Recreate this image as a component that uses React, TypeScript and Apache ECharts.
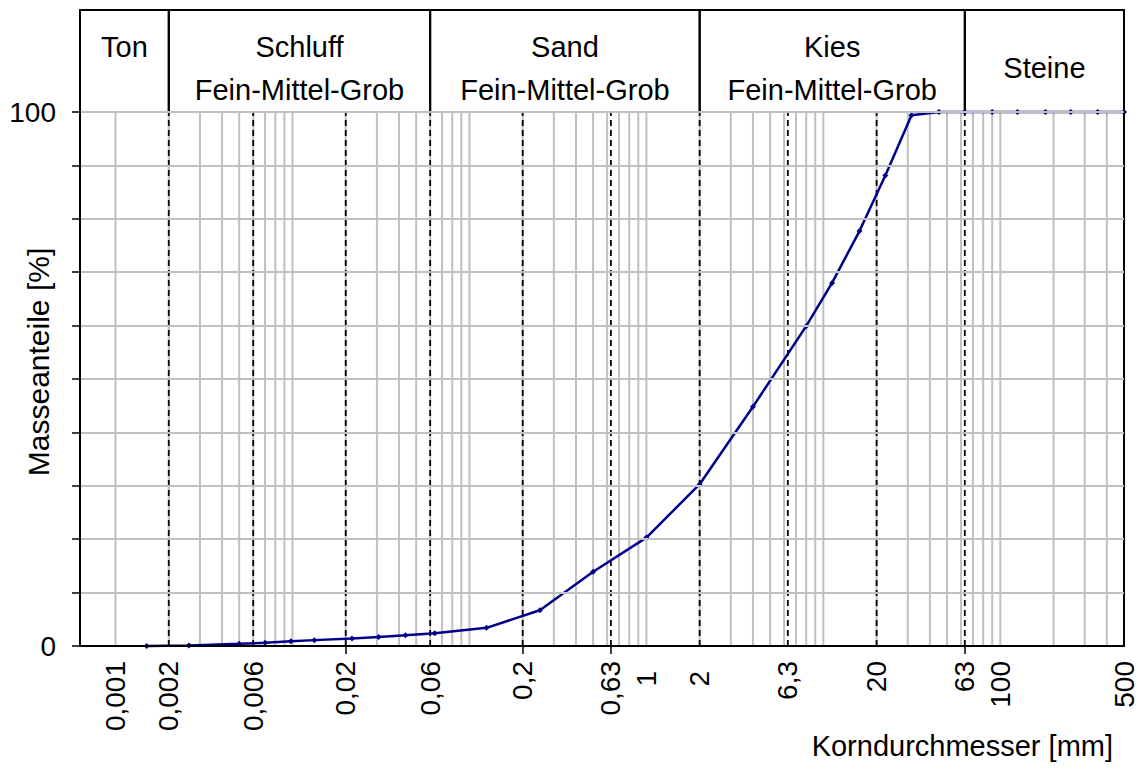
import React, { useEffect, useRef } from "react";
import * as echarts from "echarts";

// Sieve / sedimentation results: grain size [mm] and passing mass [%]
const SIEVE_MM = [
  0.0015, 0.0026, 0.005, 0.007, 0.0098, 0.0133, 0.0217, 0.0307, 0.0435, 0.0637,
  0.125, 0.25, 0.5, 1, 2, 4, 8, 11.2, 16, 22.4, 31.5, 45, 63, 90, 125, 180, 250,
  355, 500,
];
const PASSING = [
  0, 0.1, 0.4, 0.6, 0.9, 1.1, 1.4, 1.7, 2.0, 2.4, 3.4, 6.7, 13.9, 20.3, 30.3,
  44.8, 59.9, 68.0, 77.7, 88.1, 99.4, 100, 100, 100, 100, 100, 100, 100, 100,
];

// Labelled grain sizes on the horizontal axis
const X_TICKS = [0.001, 0.002, 0.006, 0.02, 0.06, 0.2, 0.63, 1, 2, 6.3, 20, 63, 100, 500];
const X_TICK_TEXT = ["0,001", "0,002", "0,006", "0,02", "0,06", "0,2", "0,63", "1", "2", "6,3", "20", "63", "100", "500"];
const X_TICK_LOWERED = ["1", "2"];
const X_SMALL_TICKS = [0.02, 0.2, 0.63, 63];

// Fraction boundaries (fine / medium / coarse) drawn dashed
const CLASS_BOUNDS = [0.002, 0.006, 0.02, 0.06, 0.2, 0.63, 2, 6.3, 20, 63];

// Soil classes in the header band
const HEADER_BOUNDS = [0.00063, 0.002, 0.06, 2, 63, 500];
const HEADER_NAMES = [
  "Ton\n ",
  "Schluff\nFein-Mittel-Grob",
  "Sand\nFein-Mittel-Grob",
  "Kies\nFein-Mittel-Grob",
  "Steine",
];

const X_MIN = 0.00063;
const X_MAX = 500;
const FONT = "'Liberation Sans', Arial, sans-serif";

// Logarithmic grid: 1..9 x 10^n inside the axis range
const logGridValues: number[] = [];
for (let e = -3; e <= 2; e++) {
  for (let m = 1; m <= 9; m++) {
    const v = Number((m * Math.pow(10, e)).toPrecision(3));
    if (v >= X_MIN && v < X_MAX) logGridValues.push(v);
  }
}

function tickText(v: number): string {
  for (let i = 0; i < X_TICKS.length; i++) {
    if (Math.abs(Math.log10(v / X_TICKS[i])) < 1e-4) return X_TICK_TEXT[i];
  }
  return "";
}

// Full-height vertical line at a grain size, drawn through the axis scales
function verticalLine(style: any) {
  return (params: any, api: any) => {
    const x = api.value(0);
    const p0 = api.coord([x, 0]);
    const p1 = api.coord([x, 100]);
    return {
      type: "line",
      shape: { x1: p0[0], y1: p0[1], x2: p1[0], y2: p1[1] },
      style,
      silent: true,
    };
  };
}

export default function App() {
  const ref = useRef<HTMLDivElement>(null);

  useEffect(() => {
    if (!ref.current) return;
    const chart = echarts.init(ref.current, undefined, { renderer: "svg" });

    const option: any = {
      animation: false,
      backgroundColor: "#fff",
      textStyle: { fontFamily: FONT },
      grid: [
        {
          left: 80,
          right: 14,
          top: 112,
          bottom: 123,
          show: true,
          borderColor: "#000",
          borderWidth: 2,
          z: 10,
          outerBoundsMode: "none",
          containLabel: false,
        },
        {
          left: 80,
          right: 14,
          top: 10,
          height: 102,
          show: true,
          borderColor: "#000",
          borderWidth: 2,
          outerBoundsMode: "none",
          containLabel: false,
        },
      ],
      xAxis: [
        {
          type: "log",
          logBase: 10,
          min: X_MIN,
          max: X_MAX,
          gridIndex: 0,
          z: 10,
          axisLine: { show: true, lineStyle: { color: "#000", width: 2 } },
          axisTick: {
            show: true,
            customValues: X_SMALL_TICKS,
            length: 8,
            lineStyle: { color: "#000", width: 1.5 },
          },
          splitLine: { show: false },
          minorTick: { show: false },
          axisLabel: {
            show: true,
            customValues: X_TICKS,
            rotate: 90,
            margin: 15,
            color: "#000",
            fontSize: 28,
            fontFamily: FONT,
            hideOverlap: false,
            formatter: (v: number) => {
              const t = tickText(v);
              return X_TICK_LOWERED.indexOf(t) >= 0 ? `{lo|${t}}` : t;
            },
            rich: {
              lo: {
                fontSize: 28,
                fontFamily: FONT,
                color: "#000",
                padding: [0, 10, 0, 0],
              },
            },
          },
        },
        {
          type: "log",
          logBase: 10,
          min: X_MIN,
          max: X_MAX,
          gridIndex: 1,
          show: false,
        },
      ],
      yAxis: [
        {
          type: "value",
          min: 0,
          max: 100,
          interval: 10,
          gridIndex: 0,
          z: 10,
          name: "Masseanteile [%]",
          nameLocation: "middle",
          nameGap: 27,
          nameMoveOverlap: false,
          nameTextStyle: {
            fontSize: 30,
            color: "#000",
            fontFamily: FONT,
            padding: [0, 0, 0, 34],
          },
          axisLine: { show: true, lineStyle: { color: "#000", width: 2 } },
          axisTick: { show: true, length: 8, lineStyle: { color: "#000", width: 1.5 } },
          axisLabel: {
            margin: 24,
            color: "#000",
            fontSize: 28,
            fontFamily: FONT,
            formatter: (v: number) => (v === 0 || v === 100 ? String(v) : ""),
          },
          splitLine: { show: true, lineStyle: { color: "#c0c0c0", width: 2 } },
        },
        { type: "value", min: 0, max: 1, gridIndex: 1, show: false },
      ],
      series: [
        {
          name: "logGrid",
          type: "custom",
          xAxisIndex: 0,
          yAxisIndex: 0,
          z: 1,
          silent: true,
          encode: { x: 0, y: 1 },
          data: logGridValues.map((v) => [v, 0]),
          renderItem: verticalLine({ stroke: "#c0c0c0", lineWidth: 2 }),
          markLine: {
            silent: true,
            symbol: ["none", "none"],
            label: { show: false },
            emphasis: { disabled: true },
            lineStyle: { color: "#808080", width: 1.5, type: "solid" },
            data: [{ yAxis: 50 }],
          },
        },
        {
          name: "classBounds",
          type: "custom",
          xAxisIndex: 0,
          yAxisIndex: 0,
          z: 2,
          silent: true,
          encode: { x: 0, y: 1 },
          data: CLASS_BOUNDS.map((v) => [v, 0]),
          renderItem: verticalLine({ stroke: "#000", lineWidth: 1.8, lineDash: [6, 4] }),
        },
        {
          name: "Sieblinie",
          type: "line",
          xAxisIndex: 0,
          yAxisIndex: 0,
          z: 5,
          data: SIEVE_MM.map((d, i) => [d, PASSING[i]]),
          symbol: "diamond",
          symbolSize: 6,
          showAllSymbol: true,
          clip: false,
          lineStyle: { color: "#00008b", width: 2.5 },
          itemStyle: { color: "#00008b" },
        },
        {
          name: "header",
          type: "line",
          data: [],
          xAxisIndex: 1,
          yAxisIndex: 1,
          silent: true,
          markArea: {
            silent: true,
            emphasis: { disabled: true },
            itemStyle: {
              color: "rgba(0,0,0,0)",
              borderColor: "#000",
              borderWidth: 2,
            },
            label: {
              show: true,
              position: "inside",
              formatter: "{b}",
              color: "#000",
              fontSize: 29,
              lineHeight: 43,
              fontFamily: FONT,
              offset: [0, 7],
            },
            data: HEADER_NAMES.map((name, i) => [
              { name, xAxis: HEADER_BOUNDS[i] },
              { xAxis: HEADER_BOUNDS[i + 1] },
            ]),
          },
        },
      ],
      graphic: [
        {
          type: "text",
          right: 25,
          top: 731,
          style: {
            text: "Korndurchmesser [mm]",
            fontSize: 29,
            fontFamily: FONT,
            fill: "#000",
          },
        },
      ],
    };

    chart.setOption(option);
    return () => chart.dispose();
  }, []);

  return (
    <div
      ref={ref}
      style={{ position: "fixed", left: 0, top: 0, width: 1138, height: 769 }}
    />
  );
}
